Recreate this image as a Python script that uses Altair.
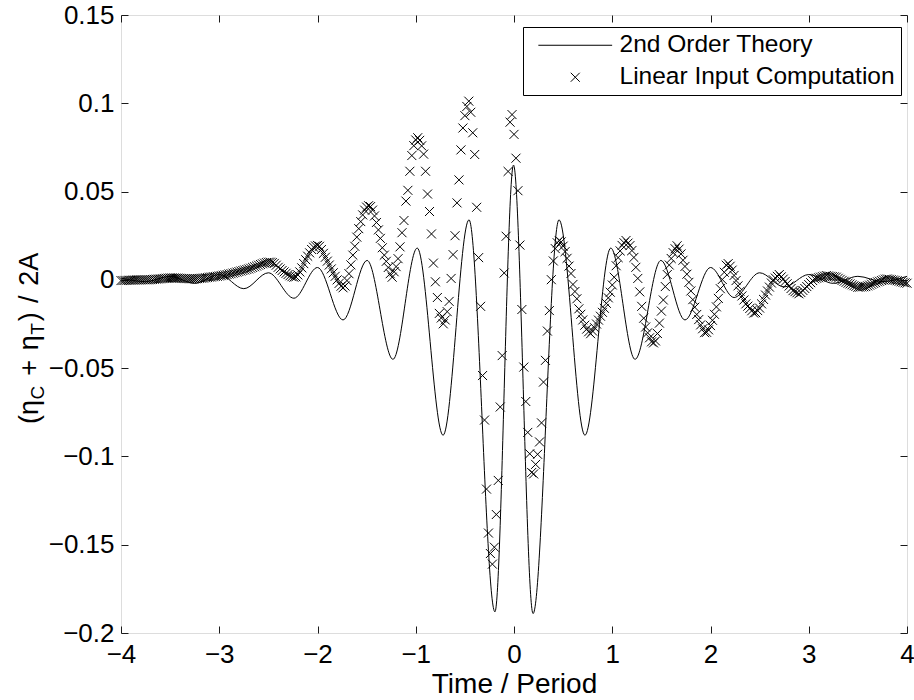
import altair as alt
import pandas as pd

FONT = "Liberation Sans"

# ---- "2nd Order Theory" (solid line): turning points
theory_t = [-4.0, -3.75, -3.5, -3.25, -3.0, -2.75, -2.5, -2.24, -2.0, -1.74, -1.495,
            -1.232, -0.985, -0.722, -0.458, -0.194, -0.005, 0.194, 0.458, 0.722, 0.985,
            1.232, 1.495, 1.74, 2.0, 2.24, 2.5, 2.75, 3.0, 3.25, 3.5, 3.75, 4.0]
theory_y = [0.001, -0.001, 0.002, -0.002, 0.003, -0.005, 0.004, -0.0104, 0.007, -0.0227, 0.011,
            -0.045, 0.018, -0.088, 0.034, -0.188, 0.065, -0.189, 0.034, -0.088, 0.018,
            -0.045, 0.011, -0.0227, 0.007, -0.010, 0.004, -0.004, 0.003, -0.002, 0.002, -0.001, 0.002]

# ---- "Linear Input Computation" (x markers), sampled every 0.02 periods from -4
linear_t0 = -4.0
linear_dt = 0.02
linear_y = [
    -0.0004, -0.0004, -0.0003, -0.0003, -0.0002, -0.0002, -0.0001, -0.0001, 0.0000, 0.0000,   # -4.00
    0.0000, 0.0000, 0.0000, 0.0000, 0.0000, 0.0001, 0.0002, 0.0003, 0.0004, 0.0005,           # -3.80
    0.0006, 0.0007, 0.0008, 0.0009, 0.0010, 0.0011, 0.0011, 0.0011, 0.0010, 0.0010,           # -3.60
    0.0009, 0.0008, 0.0008, 0.0007, 0.0007, 0.0006, 0.0006, 0.0006, 0.0006, 0.0007,           # -3.40
    0.0008, 0.0009, 0.0010, 0.0012, 0.0013, 0.0015, 0.0016, 0.0018, 0.0019, 0.0020,           # -3.20
    0.0022, 0.0024, 0.0026, 0.0028, 0.0030, 0.0033, 0.0035, 0.0038, 0.0041, 0.0044,           # -3.00
    0.0047, 0.0050, 0.0053, 0.0056, 0.0059, 0.0062, 0.0066, 0.0070, 0.0074, 0.0078,           # -2.80
    0.0083, 0.0087, 0.0091, 0.0095, 0.0098, 0.0100, 0.0100, 0.0098, 0.0093, 0.0083,           # -2.60
    0.0071, 0.0062, 0.0053, 0.0045, 0.0037, 0.0030, 0.0023, 0.0018, 0.0015, 0.0017,           # -2.40
    0.0028, 0.0045, 0.0068, 0.0092, 0.0114, 0.0134, 0.0153, 0.0172, 0.0185, 0.0192,           # -2.20
    0.0195, 0.0190, 0.0172, 0.0150, 0.0128, 0.0106, 0.0084, 0.0062, 0.0040, 0.0020,           # -2.00
    0.0000, -0.0020, -0.0036, -0.0045, -0.0035, -0.0004, 0.0035, 0.0085, 0.0140, 0.0190,      # -1.80
    0.0242, 0.0290, 0.0330, 0.0368, 0.0395, 0.0412, 0.0420, 0.0415, 0.0395, 0.0362,           # -1.60
    0.0325, 0.0283, 0.0235, 0.0182, 0.0140, 0.0105, 0.0070, 0.0035, 0.0015, 0.0046,           # -1.40
    0.0075, 0.0120, 0.0187, 0.0267, 0.0336, 0.0446, 0.0507, 0.0615, 0.0704, 0.0760,           # -1.20
    0.0792, 0.0805, 0.0790, 0.0759, 0.0712, 0.0615, 0.0486, 0.0387, 0.0260, 0.0095,           # -1.00
    -0.0011, -0.0100, -0.0190, -0.0216, -0.0249, -0.0227, -0.0180, -0.0122, 0.0008, 0.0143,   # -0.80
    0.0250, 0.0436, 0.0566, 0.0736, 0.0860, 0.0930, 0.0982, 0.1012, 0.0949, 0.0833,           # -0.60
    0.0710, 0.0411, 0.0126, -0.0150, -0.0542, -0.0794, -0.1185, -0.1434, -0.1550, -0.1610,    # -0.40
    -0.1514, -0.1329, -0.1136, -0.0720, -0.0429, 0.0039, 0.0247, 0.0614, 0.0893, 0.0936,      # -0.20
    0.0824, 0.0689, 0.0505, 0.0197, -0.0168, -0.0494, -0.0689, -0.0864, -0.0985, -0.1091,     # 0.00
    -0.1099, -0.1045, -0.0988, -0.0918, -0.0810, -0.0579, -0.0456, -0.0290, -0.0174, 0.0001,  # 0.20
    0.0107, 0.0177, 0.0210, 0.0223, 0.0215, 0.0191, 0.0160, 0.0122, 0.0078, 0.0036,           # 0.40
    -0.0026, -0.0066, -0.0107, -0.0164, -0.0195, -0.0227, -0.0257, -0.0279, -0.0294, -0.0305, # 0.60
    -0.0290, -0.0271, -0.0250, -0.0228, -0.0206, -0.0184, -0.0161, -0.0133, -0.0102, -0.0070, # 0.80
    -0.0029, 0.0015, 0.0080, 0.0126, 0.0164, 0.0195, 0.0210, 0.0223, 0.0208, 0.0194,          # 1.00
    0.0166, 0.0127, 0.0071, 0.0008, -0.0068, -0.0150, -0.0217, -0.0267, -0.0300, -0.0328,     # 1.20
    -0.0351, -0.0357, -0.0346, -0.0304, -0.0245, -0.0177, -0.0114, -0.0038, 0.0030, 0.0084,   # 1.40
    0.0121, 0.0154, 0.0176, 0.0193, 0.0174, 0.0147, 0.0111, 0.0076, 0.0032, -0.0014,          # 1.60
    -0.0063, -0.0112, -0.0155, -0.0196, -0.0225, -0.0255, -0.0277, -0.0299, -0.0297, -0.0283, # 1.80
    -0.0259, -0.0229, -0.0195, -0.0153, -0.0105, -0.0050, 0.0002, 0.0043, 0.0083, 0.0092,     # 2.00
    0.0077, 0.0055, 0.0025, -0.0004, -0.0034, -0.0065, -0.0091, -0.0114, -0.0136, -0.0149,    # 2.20
    -0.0162, -0.0175, -0.0188, -0.0186, -0.0174, -0.0160, -0.0136, -0.0111, -0.0086, -0.0063, # 2.40
    -0.0041, -0.0018, 0.0000, 0.0010, 0.0020, 0.0030, 0.0017, 0.0004, -0.0009, -0.0022,      # 2.60
    -0.0035, -0.0049, -0.0061, -0.0067, -0.0073, -0.0079, -0.0072, -0.0060, -0.0049, -0.0038, # 2.80
    -0.0027, -0.0016, -0.0004, 0.0006, 0.0009, 0.0012, 0.0015, 0.0018, 0.0021, 0.0024,       # 3.00
    0.0022, 0.0020, 0.0019, 0.0017, 0.0015, 0.0009, 0.0003, -0.0003, -0.0008, -0.0014,       # 3.20
    -0.0019, -0.0023, -0.0028, -0.0033, -0.0037, -0.0042, -0.0041, -0.0040, -0.0039, -0.0038, # 3.40
    -0.0034, -0.0030, -0.0025, -0.0020, -0.0016, -0.0011, -0.0008, -0.0004, 0.0000, 0.0004,  # 3.60
    0.0005, 0.0003, 0.0001, -0.0001, -0.0003, -0.0005, -0.0008, -0.0011, -0.0014, -0.0017,   # 3.80
    -0.0019,                                                                                  # 4.00
]
linear_t = [round(linear_t0 + linear_dt * i, 2) for i in range(len(linear_y))]

series_names = ["2nd Order Theory", "Linear Input Computation"]
x_ticks = [-4, -3, -2, -1, 0, 1, 2, 3, 4]
y_ticks = [-0.2, -0.15, -0.1, -0.05, 0, 0.05, 0.1, 0.15]

theory = pd.DataFrame({"t": theory_t, "v": theory_y})
linear = pd.DataFrame({"t": linear_t, "v": linear_y, "series": series_names[1]})

X_PATH = "M-1,-1L1,1M-1,1L1,-1"
LINE_PATH = "M-8.2,0L8.2,0"

xscale = alt.Scale(domain=[-4, 4], nice=False, zero=False)
yscale = alt.Scale(domain=[-0.2, 0.15], nice=False, zero=False)

TICK_FS = 26
XTITLE_FS = 28
YTITLE_FS = 27
SUB_FS = 19
LEGEND_FS = 24.5

common = dict(domain=False, grid=False, tickSize=7, tickColor="#1a1a1a", tickWidth=1,
              offset=-7, labelFont=FONT, labelFontSize=TICK_FS, labelColor="black",
              titleFont=FONT, titleFontSize=XTITLE_FS, titleColor="black", titleFontWeight="normal")

x_bottom = alt.Axis(orient="bottom", values=x_ticks, format="d", labelPadding=8,
                    title="Time / Period", titlePadding=3, labelFlush=False, **common)
x_top = alt.Axis(orient="top", values=x_ticks, labels=False, title=None, **common)
y_left = alt.Axis(orient="left", values=y_ticks, format="~g", labelPadding=7, title=None, **common)
y_right = alt.Axis(orient="right", values=y_ticks, labels=False, title=None, **common)

line = alt.Chart(theory).mark_line(color="black", strokeWidth=1, interpolate="monotone").encode(
    x=alt.X("t:Q", scale=xscale, axis=x_bottom),
    y=alt.Y("v:Q", scale=yscale, axis=y_left),
)

pts = alt.Chart(linear).mark_point(filled=False, color="black", strokeWidth=1, size=81, opacity=1).encode(
    x=alt.X("t:Q", scale=xscale, axis=x_top),
    y=alt.Y("v:Q", scale=yscale, axis=y_right),
    shape=alt.Shape(
        "series:N",
        scale=alt.Scale(domain=series_names, range=[LINE_PATH, X_PATH]),
        legend=alt.Legend(
            title=None, orient="none", legendX=402, legendY=12, direction="vertical",
            padding=6, rowPadding=7, symbolOffset=34, labelOffset=32,
            labelFont=FONT, labelFontSize=LEGEND_FS, labelColor="black", labelLimit=600,
            symbolSize=81, symbolStrokeWidth=1, symbolStrokeColor="black",
            symbolFillColor="transparent", strokeColor="black", fillColor="white",
            cornerRadius=0,
        ),
    ),
)

# y-axis title "(η_C + η_T) / 2A" built from text pieces (rotated, read bottom to top)
title_pieces = [
    ("(η", 0.0, 0, YTITLE_FS),
    ("C", 24.6, 5.5, SUB_FS),
    ("+", 48.2, 0, YTITLE_FS),
    ("η", 73.7, 0, YTITLE_FS),
    ("T", 89.2, 5.5, SUB_FS),
    (")", 102.8, 0, YTITLE_FS),
    ("/", 121.0, 0, YTITLE_FS),
    ("2A", 138.3, 0, YTITLE_FS),
]
title_layers = [
    alt.Chart(alt.Data(values=[{}])).mark_text(
        text=txt, angle=270, align="left", baseline="alphabetic", dx=dx, dy=dy,
        font=FONT, fontSize=fs, color="black",
    ).encode(x=alt.value(-83), y=alt.value(409))
    for txt, dx, dy, fs in title_pieces
]

chart = alt.layer(line, pts, *title_layers).resolve_axis(
    x="independent", y="independent"
).properties(
    width=786, height=618,
    autosize=alt.AutoSizeParams(type="none"),
    padding={"left": 121, "top": 15, "right": 7, "bottom": 67},
    background="white",
).configure_view(stroke="black", strokeWidth=1).configure(font=FONT)

chart.save("out.html", embed_options={"renderer": "svg", "actions": False})
